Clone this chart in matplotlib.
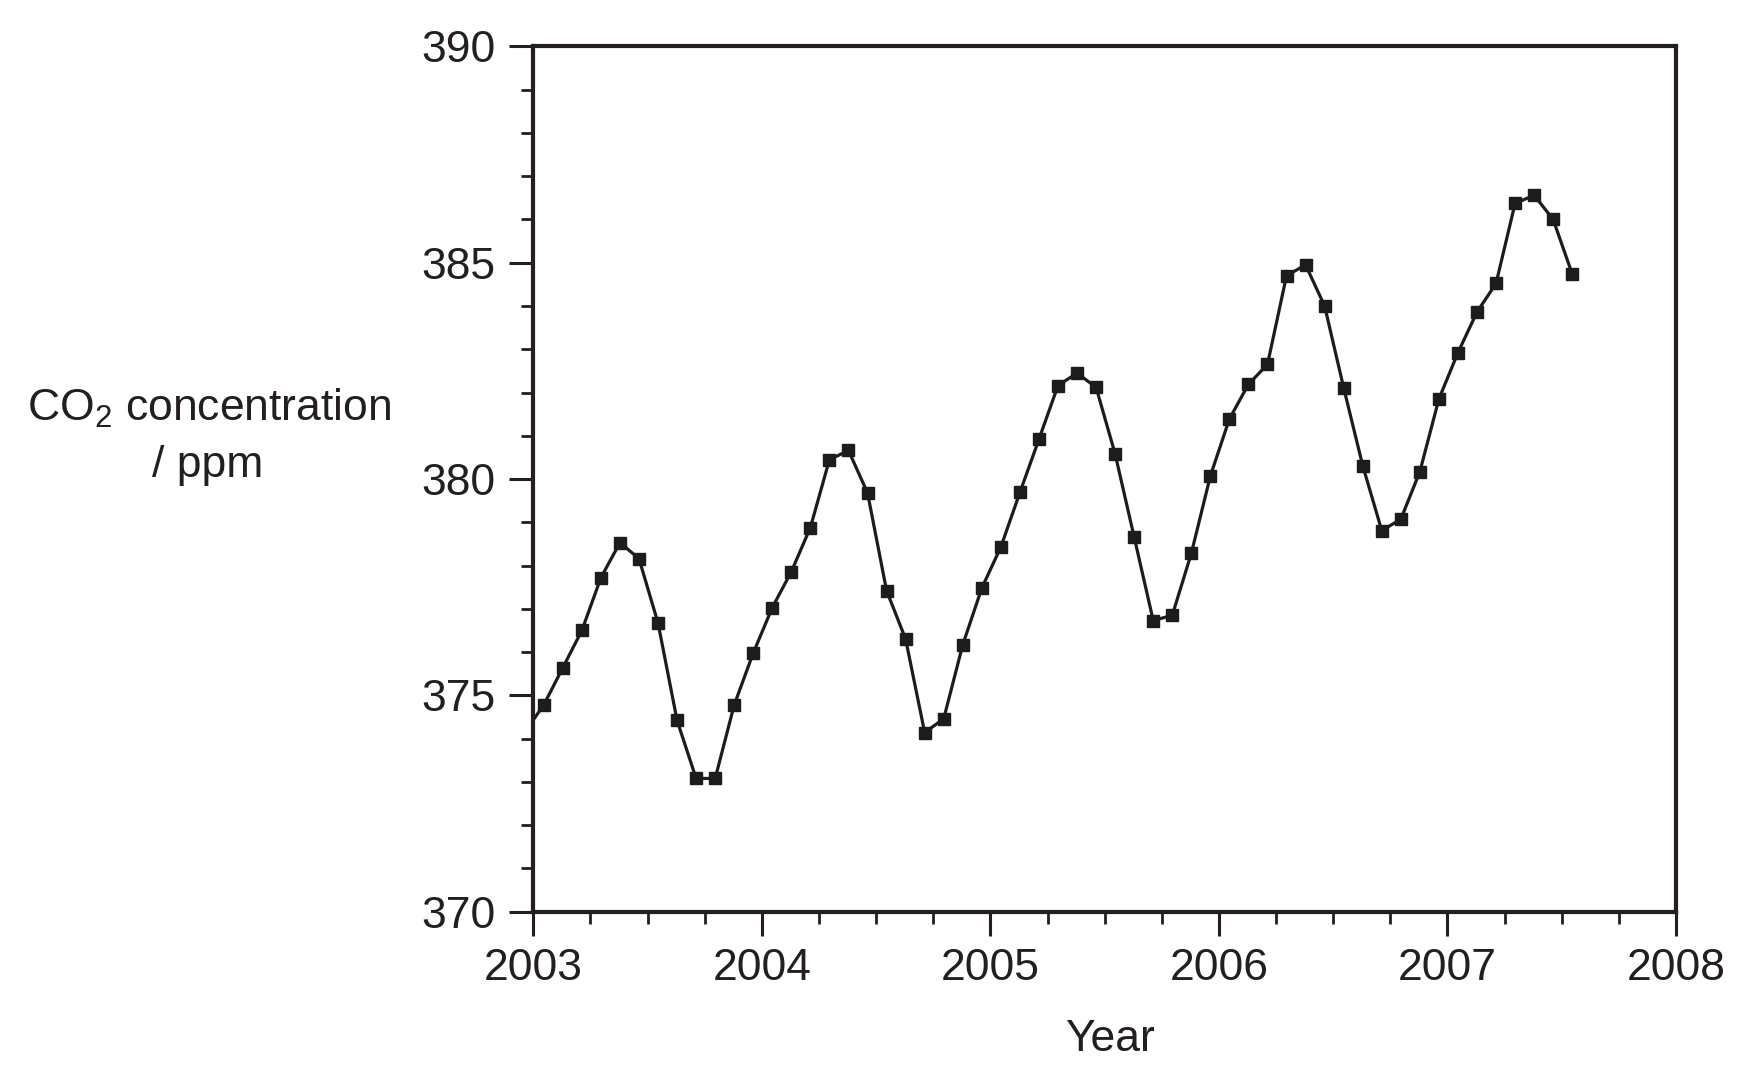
import matplotlib
matplotlib.use("Agg")
import matplotlib.pyplot as plt
from matplotlib.ticker import MultipleLocator, FixedLocator
import numpy as np

# ---- data (monthly mean CO2, ppm) ----
co2_2002_dec = [374.15]  # only partly visible (line enters from the left edge)
co2_2003 = [374.78, 375.64, 376.50, 377.72, 378.53, 378.16, 376.67, 374.42, 373.08, 373.08, 374.78, 375.98]
co2_2004 = [377.03, 377.86, 378.88, 380.45, 380.66, 379.68, 377.42, 376.30, 374.14, 374.46, 376.17, 377.48]
co2_2005 = [378.43, 379.69, 380.92, 382.16, 382.45, 382.12, 380.58, 378.66, 376.73, 376.85, 378.28, 380.07]
co2_2006 = [381.39, 382.19, 382.65, 384.70, 384.95, 384.00, 382.11, 380.31, 378.81, 379.07, 380.17, 381.85]
co2_2007 = [382.92, 383.86, 384.52, 386.37, 386.56, 386.00, 384.74]

x_ticks = [2003, 2004, 2005, 2006, 2007, 2008]
x_tick_labels = ["2003", "2004", "2005", "2006", "2007", "2008"]
y_ticks = [370, 375, 380, 385, 390]
y_tick_labels = ["370", "375", "380", "385", "390"]

values = np.array(co2_2002_dec + co2_2003 + co2_2004 + co2_2005 + co2_2006 + co2_2007)
month_index = np.arange(len(values)) - 1          # -1 = Dec 2002, 0 = Jan 2003
years = 2003 + (month_index + 0.55) / 12.0          # mid-month positions

ink = "#231f20"
plt.rcParams["font.family"] = ["Liberation Sans", "DejaVu Sans"]
plt.rcParams["mathtext.default"] = "regular"

fig = plt.figure(figsize=(17.53, 10.78), dpi=100)
ax = fig.add_axes([533.3 / 1753, 1 - 911.7 / 1078, (1676 - 533.3) / 1753, (911.7 - 46.4) / 1078])

ax.plot(years, values, color="#1c1c1c", lw=2.3, marker="s", ms=8.2,
        markerfacecolor="#1c1c1c", markeredgecolor="#1c1c1c", clip_on=True)

ax.set_xlim(2003, 2008)
ax.set_ylim(370, 390)
ax.xaxis.set_major_locator(FixedLocator(x_ticks))
ax.set_xticklabels(x_tick_labels)
ax.xaxis.set_minor_locator(MultipleLocator(0.25))
ax.yaxis.set_major_locator(FixedLocator(y_ticks))
ax.set_yticklabels(y_tick_labels)
ax.yaxis.set_minor_locator(MultipleLocator(1))

for sp in ax.spines.values():
    sp.set_linewidth(3.0)
    sp.set_color(ink)

ax.tick_params(which="major", direction="out", length=17, width=2.2, color=ink,
               labelsize=32, labelcolor=ink)
ax.tick_params(which="minor", direction="out", length=8.5, width=2.0, color=ink)
ax.tick_params(axis="y", which="major", pad=10)
ax.tick_params(axis="x", which="major", pad=9)
ax.tick_params(top=False, right=False, which="both")

fig.text(1110 / 1753, 1 - 1051 / 1078, "Year", ha="center", va="baseline",
         fontsize=32, color=ink)
fig.text(209 / 1753, 1 - 421 / 1078, r"CO$_{2}$ concentration", ha="center",
         va="baseline", fontsize=32, color=ink)
fig.text(208 / 1753, 1 - 477 / 1078, "/ ppm", ha="center", va="baseline",
         fontsize=32, color=ink)

fig.savefig("out.png", dpi=100, facecolor="white")
